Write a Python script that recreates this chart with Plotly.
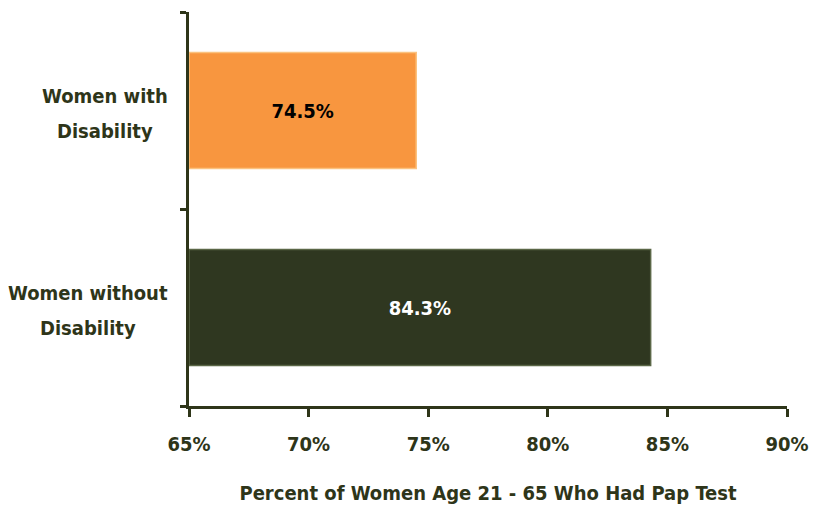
import plotly.graph_objects as go

categories = ["Women without Disability", "Women with Disability"]
label_first = ["Women without", "Women with"]
label_second = ["Disability", "Disability"]
values = [84.3, 74.5]
bar_labels = ["84.3%", "74.5%"]
bar_colors = ["#2f3720", "#f8963f"]
line_colors = ["#5a6646", "#fbc27f"]
text_colors = ["#ffffff", "#000000"]
x_ticks = [65, 70, 75, 80, 85, 90]
x_tick_labels = ["65%", "70%", "75%", "80%", "85%", "90%"]
AXIS_START = 65

FONT = "DejaVu Sans Condensed, Liberation Sans, sans-serif"
DARK = "#2e3519"
LABEL_CENTER_SHIFT = [-101, -84]  # pixel offset of each label's centre from the y axis


def f(size, color=DARK):
    return dict(family=FONT, size=size, color=color, weight="bold")


fig = go.Figure()
fig.add_trace(go.Bar(
    y=categories, x=[v - AXIS_START for v in values], base=AXIS_START, orientation="h",
    marker=dict(color=bar_colors, line=dict(color=line_colors, width=1.5)),
    text=bar_labels, textposition="inside", insidetextanchor="middle",
    textfont=f(20, text_colors), constraintext="none",
    hoverinfo="skip",
))

for cat, l1, l2, sh in zip(categories, label_first, label_second, LABEL_CENTER_SHIFT):
    for txt, ys in ((l1, 15), (l2, -20)):
        fig.add_annotation(
            x=0, xref="paper", y=cat, yref="y", xanchor="center", yanchor="middle",
            xshift=sh, yshift=ys, text=txt, showarrow=False, font=f(20),
        )

fig.update_layout(
    width=814, height=510,
    margin=dict(l=189, r=27, t=12, b=104),
    paper_bgcolor="white", plot_bgcolor="white",
    bargap=0.41, showlegend=False,
    font=dict(family=FONT, color=DARK),
)
fig.update_xaxes(
    range=[65, 90], tickvals=x_ticks, ticktext=x_tick_labels,
    showgrid=False, zeroline=False, automargin=False,
    showline=True, linecolor=DARK, linewidth=3,
    ticks="outside", ticklen=8, tickwidth=3, tickcolor=DARK,
    tickfont=f(20),
    ticklabelstandoff=10,
    title=dict(text="Percent of Women Age 21 - 65 Who Had Pap Test",
               font=f(20), standoff=31),
)
fig.update_yaxes(
    categoryorder="array", categoryarray=categories, range=[-0.5, 1.5],
    showgrid=False, zeroline=False, showticklabels=False, automargin=False,
    showline=True, linecolor=DARK, linewidth=3,
    ticks="outside", tickson="boundaries", ticklen=6, tickwidth=3, tickcolor=DARK,
)

fig.write_html(
    "out.html",
    config={"displayModeBar": False},
    post_script="document.body.style.margin='0';document.body.style.overflow='hidden';",
)
